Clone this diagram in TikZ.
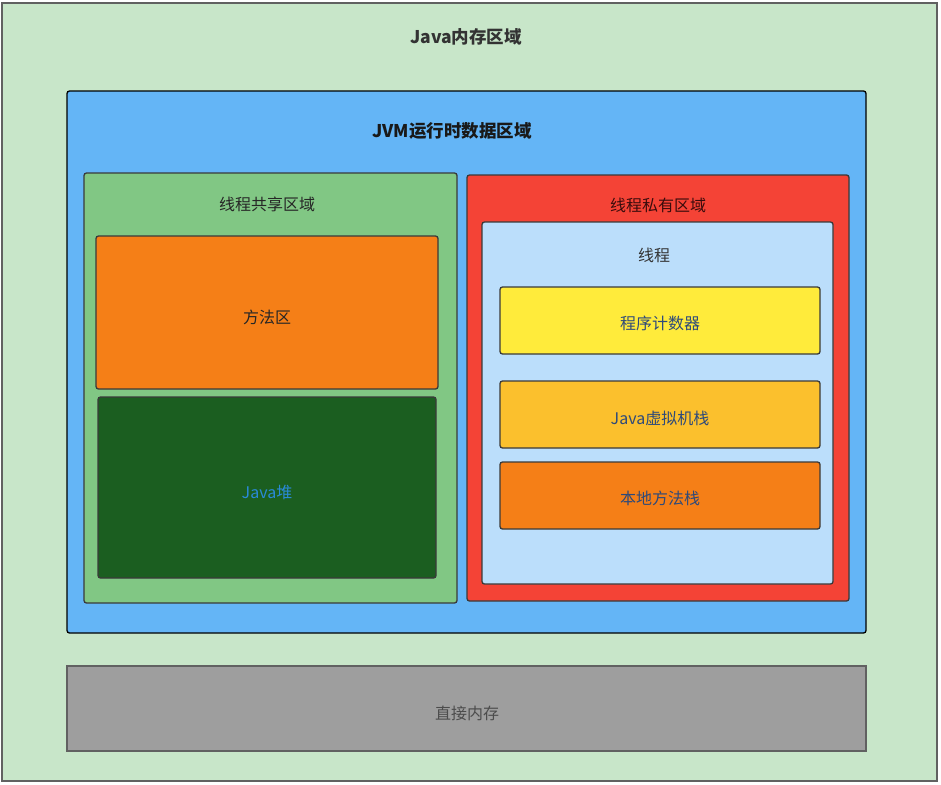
\documentclass[tikz,border=0pt]{standalone}
\usepackage{fontspec}
\setmainfont{Noto Sans CJK SC}
\definecolor{outerbg}{HTML}{C8E6C9}
\definecolor{jvmbg}{HTML}{64B5F6}
\definecolor{sharebg}{HTML}{81C784}
\definecolor{privbg}{HTML}{F44336}
\definecolor{threadbg}{HTML}{BBDEFB}
\definecolor{orangebg}{HTML}{F57F17}
\definecolor{heapbg}{HTML}{1B5E20}
\definecolor{yellowbg}{HTML}{FFEB3B}
\definecolor{ambbg}{HTML}{FBC02D}
\definecolor{greybg}{HTML}{9E9E9E}
\definecolor{edge}{HTML}{3A3A3A}
\definecolor{bluetext}{HTML}{2E4A7A}
\definecolor{heaptext}{HTML}{2A8AD8}
\definecolor{privtext}{HTML}{3A0C0C}
\tikzset{
  box/.style={draw=edge, line width=1.3pt, rounded corners=2.5pt},
  lbl/.style={font=\fontsize{16}{19}\selectfont, inner sep=0pt, anchor=center},
  ttl/.style={font=\fontsize{17.5}{20}\selectfont\bfseries, inner sep=0pt, anchor=center}
}
\begin{document}
\begin{tikzpicture}[x=1pt,y=-1pt]
\useasboundingbox (0,0) rectangle (941,784);
% outer
\draw[draw=edge!80, line width=1.3pt, fill=outerbg] (2,3) rectangle (937,781);
\node[ttl, text=black!80] (t0) at (466,37) {Java内存区域};
% JVM
\draw[box, draw=black, fill=jvmbg] (67,91) rectangle (866,633);
\node[ttl, text=black!90] (t1) at (452,131) {JVM运行时数据区域};
% shared
\draw[box, fill=sharebg] (84,173) rectangle (457,603);
\node[lbl, text=black!85] (t2) at (267,204) {线程共享区域};
\draw[box, fill=orangebg] (96,236) rectangle (438,389);
\node[lbl, text=black!85] (t3) at (267,317) {方法区};
\draw[box, fill=heapbg] (98,397) rectangle (436,578);
\node[lbl, text=heaptext] (t4) at (267,492) {Java堆};
% private
\draw[box, fill=privbg] (467,175) rectangle (849,601);
\node[lbl, text=privtext] (t5) at (658,205) {线程私有区域};
\draw[box, fill=threadbg] (482,222) rectangle (833,584);
\node[lbl, text=black!80] (t6) at (654,255) {线程};
\draw[box, fill=yellowbg] (500,287) rectangle (820,354);
\node[lbl, text=bluetext] (t7) at (660,323) {程序计数器};
\draw[box, fill=ambbg] (500,381) rectangle (820,448);
\node[lbl, text=bluetext] (t8) at (660,418) {Java虚拟机栈};
\draw[box, fill=orangebg] (500,462) rectangle (820,529);
\node[lbl, text=bluetext] (t9) at (660,498) {本地方法栈};
% direct memory
\draw[draw=edge!80, line width=1.3pt, fill=greybg] (67,666) rectangle (866,751);
\node[lbl, text=black!70] (t10) at (467,713) {直接内存};
\end{tikzpicture}
\end{document}
